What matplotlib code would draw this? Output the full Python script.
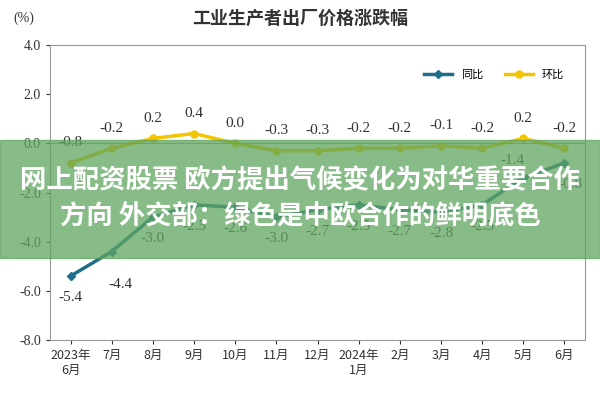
import matplotlib
matplotlib.use("Agg")
import matplotlib.pyplot as plt
from matplotlib.patches import Rectangle

months = ["2023年\n6月", "7月", "8月", "9月", "10月", "11月", "12月", "2024年\n1月", "2月", "3月", "4月", "5月", "6月"]
yoy = [-5.4, -4.4, -3.0, -2.5, -2.6, -3.0, -2.7, -2.5, -2.7, -2.8, -2.5, -1.4, -0.8]
mom = [-0.8, -0.2, 0.2, 0.4, 0.0, -0.3, -0.3, -0.2, -0.2, -0.1, -0.2, 0.2, -0.2]
title = "工业生产者出厂价格涨跌幅"
overlay = "网上配资股票 欧方提出气候变化为对华重要合作\n方向 外交部：绿色是中欧合作的鲜明底色"

cjk = "Noto Sans CJK SC"
serif = "Liberation Serif"
fig = plt.figure(figsize=(6, 4), dpi=100)
ax = fig.add_axes([50/600, 60/400, 535/600, 295/400])
x = list(range(len(months)))
ax.plot(x, yoy, color="#1f6f8b", lw=2.5, marker="D", ms=4, label="同比")
ax.plot(x, mom, color="#f2c500", lw=2.5, marker="o", ms=5, label="环比")
ax.set_xlim(-0.5, len(months) - 0.5)
ax.set_ylim(-8, 4)
ax.set_yticks([-8, -6, -4, -2, 0, 2, 4])
ax.set_yticklabels([f"{v:.1f}" for v in [-8, -6, -4, -2, 0, 2, 4]], fontfamily=serif, fontsize=10)
ax.set_xticks(x)
ax.set_xticklabels(months, fontfamily=cjk, fontsize=9)
ax.axhline(0, color="#999999", lw=0.8)
for s in ax.spines.values():
    s.set_color("#999999")
ax.tick_params(colors="#333333", length=3)
for i, v in enumerate(yoy):
    dx, off = 0, -18
    if i == 1:
        dx, off = 6, -26
    if i == 11:
        dx, off = -8, 10
    if i == 12:
        dx = 4
    ax.annotate(f"{v:.1f}", (i, v), xytext=(dx, off), textcoords="offset points", ha="center",
                fontfamily=serif, fontsize=11, color="#333333")
for i, v in enumerate(mom):
    ax.annotate(f"{v:.1f}", (i, v), xytext=(0, 12), textcoords="offset points", ha="center",
                fontfamily=serif, fontsize=11, color="#333333")
ax.legend(loc="upper right", bbox_to_anchor=(0.98, 0.95), ncol=2, frameon=False,
          prop={"family": cjk, "size": 8}, handlelength=2.5)
fig.text(0.5, 0.955, title, ha="center", va="center", fontfamily=cjk, fontsize=13, fontweight="bold", color="#333333")
fig.text(0.04, 0.955, "(%)", ha="center", va="center", fontfamily=serif, fontsize=10, color="#333333")
fig.patches.append(Rectangle((0, 142/400), 1, 118/400, transform=fig.transFigure,
                             color="#5fa55f", alpha=0.75, zorder=5))
fig.text(0.5, 201/400, overlay, ha="center", va="center", fontfamily=cjk, fontsize=19,
         fontweight="bold", color="white", linespacing=1.45, zorder=6)
fig.savefig("out.png", dpi=100)
